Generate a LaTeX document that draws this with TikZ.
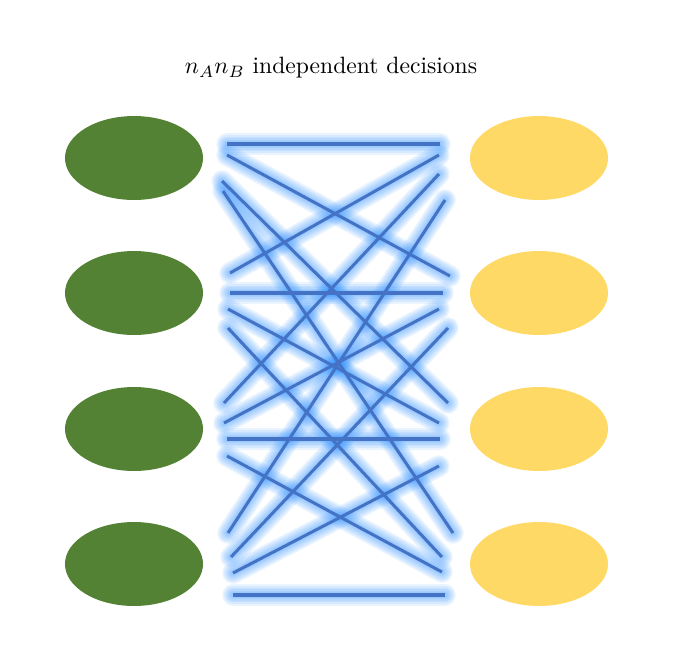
\documentclass[tikz,border=0pt]{standalone}
\usetikzlibrary{shapes.geometric}

\definecolor{leafgreen}{HTML}{548235}
\definecolor{sunyellow}{HTML}{FFD966}
\definecolor{linkblue}{HTML}{4472C4}
\definecolor{glowblue}{HTML}{2E8FFF}

\begin{document}
\begin{tikzpicture}[
  x=0.0149cm, y=-0.0149cm,
  agent/.style={
    ellipse,
    inner sep=0pt,
    minimum width=2.056cm,
    minimum height=1.25cm
  },
  left agent/.style={agent, fill=leafgreen},
  right agent/.style={agent, fill=sunyellow},
  link/.style={linkblue, line width=0.045cm},
  glow/.style={glowblue, line cap=round, opacity=0.1}
]
\useasboundingbox (0,0) rectangle (672,672);

% =========================
% Title
% =========================
\node (title) at (331,68) {$n_An_B$ independent decisions};

% =========================
% Agents
% =========================
\foreach \k/\y in {1/158, 2/293, 3/429, 4/564} {
  \node[left agent] (A\k) at (134,\y) {};
  \node[right agent] (B\k) at (539,\y) {};
}

% =========================
% Decision end points
% =========================
\foreach \i/\j/\ax/\ay/\bx/\by in {
  1/1/227/144/440/144, 1/2/227/155/450/276, 1/3/222/181/448/403, 1/4/223/191/453/533,
  2/1/230/273/439/155, 2/2/230/293/443/293, 2/3/228/309/439/423, 2/4/228/328/442/557,
  3/1/224/403/439/174, 3/2/224/423/439/309, 3/3/227/439/440/439, 3/4/227/456/442/572,
  4/1/228/533/445/200, 4/2/231/557/448/328, 4/3/233/573/439/466, 4/4/233/595/445/595} {
  \coordinate (a\i b\j) at (\ax,\ay);
  \coordinate (b\j a\i) at (\bx,\by);
}

% glow under the links
\foreach \w in {0.32,0.27,0.22,0.17,0.12,0.08} {
  \foreach \i in {1,...,4} {
    \foreach \j in {1,...,4} {
      \draw[glow, line width=\w cm] (a\i b\j) -- (b\j a\i);
    }
  }
}

% links
\foreach \i in {1,...,4} {
  \foreach \j in {1,...,4} {
    \draw[link] (a\i b\j) -- (b\j a\i);
  }
}

\end{tikzpicture}
\end{document}
